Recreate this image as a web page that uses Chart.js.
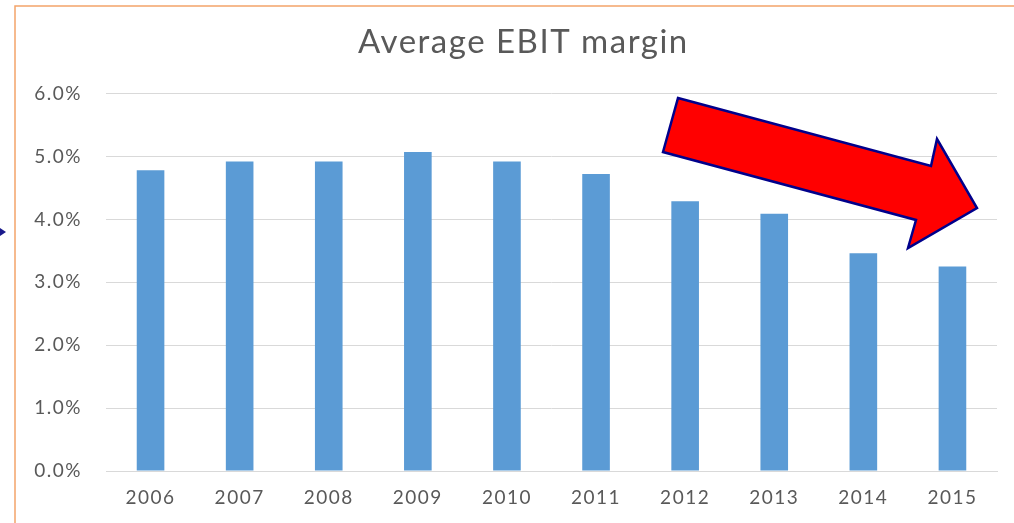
<!DOCTYPE html>
<html>
<head>
<meta charset="utf-8">
<script src="https://cdn.jsdelivr.net/npm/chart.js@4"></script>
<style>
  html, body { margin: 0; padding: 0; background: #fff; }
  #wrap { width: 1014px; height: 523px; position: relative; }
</style>
</head>
<body>
<div id="wrap"><canvas id="myChart" width="1014" height="523"></canvas></div>
<script>
const years = ["2006", "2007", "2008", "2009", "2010", "2011", "2012", "2013", "2014", "2015"]
const ebitMargin = [4.78, 4.92, 4.92, 5.07, 4.92, 4.72, 4.29, 4.09, 3.46, 3.25]
const yTicks = [0, 1, 2, 3, 4, 5, 6]

// the screenshot text is a bit spread out, mimic that
const spacing = {
    id: "spacing",
    beforeLayout(chart) { chart.ctx.letterSpacing = "1.5px" },
    beforeDraw(chart) { chart.ctx.letterSpacing = "1.5px" }
}

// orange frame + the red "downward" arrow drawn on top of the chart
const decorations = {
    id: "decorations",
    afterDraw(chart) {
        const c = chart.ctx
        c.save()
        c.strokeStyle = "#f4a46a"
        c.lineWidth = 1.5
        c.beginPath()
        c.moveTo(15, 523)
        c.lineTo(15, 6)
        c.lineTo(1014, 6)
        c.stroke()

        // small blue pointer on the far left
        c.fillStyle = "#1a1a8c"
        c.beginPath()
        c.moveTo(0, 228)
        c.lineTo(6, 232)
        c.lineTo(0, 236)
        c.closePath()
        c.fill()

        c.fillStyle = "#ff0000"
        c.strokeStyle = "#00008b"
        c.lineWidth = 2.5
        c.lineJoin = "miter"
        c.beginPath()
        c.moveTo(678, 98)
        c.lineTo(931, 166)
        c.lineTo(937, 139)
        c.lineTo(977, 208)
        c.lineTo(908, 248)
        c.lineTo(916, 220)
        c.lineTo(663, 152)
        c.closePath()
        c.fill()
        c.stroke()
        c.restore()
    }
}

const ctx = document.getElementById("myChart")

new Chart(ctx, {
    type: "bar",
    data: {
        labels: years,
        datasets: [{
            label: "Average EBIT margin",
            data: ebitMargin,
            backgroundColor: "#5b9bd5",
            borderWidth: 0,
            categoryPercentage: 1,
            barPercentage: 0.31
        }]
    },
    options: {
        responsive: false,
        animation: false,
        layout: { padding: { left: 20, right: 17, top: 0, bottom: 0 } },
        plugins: {
            legend: { display: false },
            tooltip: { enabled: false },
            title: {
                display: true,
                // leading spaces nudge it a little right, like the original
                text: "   Average EBIT margin",
                color: "#595959",
                font: { family: "Lato", size: 33, weight: "normal" },
                padding: { top: 23, bottom: 31 }
            }
        },
        scales: {
            x: {
                grid: { display: false, drawTicks: false },
                border: { color: "#d9d9d9", width: 1 },
                ticks: {
                    color: "#595959",
                    font: { family: "Lato", size: 19 },
                    padding: 15
                },
                afterFit: (s) => { s.height = 52 }
            },
            y: {
                min: 0,
                max: 6,
                afterBuildTicks: (s) => { s.ticks = yTicks.map(v => ({ value: v })) },
                grid: { color: "#d9d9d9", lineWidth: 1, drawTicks: false },
                border: { display: false },
                ticks: {
                    color: "#595959",
                    font: { family: "Lato", size: 19 },
                    padding: 24,
                    callback: (v) => v.toFixed(1) + "%"
                },
                afterFit: (s) => { s.width = 86 }
            }
        }
    },
    plugins: [spacing, decorations]
})
</script>
</body>
</html>
